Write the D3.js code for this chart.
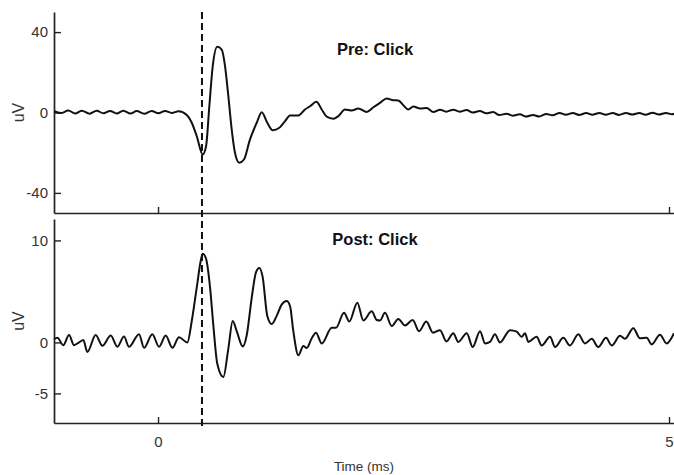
<!DOCTYPE html>
<html>
<head>
<meta charset="utf-8">
<script src="https://cdn.jsdelivr.net/npm/d3@7"></script>
<style>
  html, body { margin: 0; padding: 0; background: #fff; }
  svg { display: block; font-family: "Liberation Sans", Arial, sans-serif; }
</style>
</head>
<body>
<svg id="chart" width="674" height="475"></svg>
<script>
// Averaged evoked responses to a click, before (Pre) and after (Post).
// Each series: [time in ms, amplitude in uV].
const preClick = [
  [-1.018, 0.6], [-0.95, -0.3], [-0.878, 1.0], [-0.81, -0.5], [-0.747, 0.9], [-0.67, -0.6],
  [-0.600, 0.9], [-0.535, -0.4], [-0.470, 0.8], [-0.405, -0.5], [-0.340, 0.9], [-0.27, -0.5],
  [-0.209, 0.7], [-0.135, -0.6], [-0.062, 0.8], [0.003, -0.4], [0.068, 0.8], [0.135, -0.2],
  [0.20, 0.6], [0.281, -1.2], [0.330, -5.1], [0.379, -11.8], [0.437, -20.9], [0.470, -16.8],
  [0.502, 3.1], [0.535, 23], [0.580, 32.7], [0.623, 31.3], [0.656, 23], [0.688, 8.1],
  [0.721, -8.5], [0.753, -20], [0.795, -25], [0.841, -23.4], [0.900, -13.4], [0.966, -5.1],
  [1.015, 0.15], [1.069, -5.1], [1.122, -8.8], [1.187, -7.6], [1.243, -4.3], [1.292, -1.5],
  [1.373, -1.5], [1.438, 1.5], [1.487, 3.1], [1.549, 5.3], [1.602, 1.5], [1.651, -2.1],
  [1.715, -3.1], [1.764, -1.8], [1.830, 1.5], [1.895, 1.0], [1.960, 2.0], [2.042, 0.3],
  [2.107, 2.6], [2.172, 4.8], [2.238, 7.0], [2.302, 6.1], [2.351, 6.0], [2.400, 3.6],
  [2.449, 1.5], [2.498, 3.0], [2.564, 2.0], [2.629, 2.3], [2.694, 0.2], [2.76, 1.4],
  [2.82, 0.4], [2.89, 1.4], [2.95, 0.4], [3.02, 1.2], [3.08, 0.0], [3.15, 0.8],
  [3.21, -0.4], [3.28, 0.2], [3.34, -1.3], [3.41, -0.6], [3.47, -1.6], [3.54, -0.9],
  [3.60, -2.0], [3.67, -1.2], [3.73, -2.0], [3.80, -0.7], [3.86, -1.4], [3.93, -0.2],
  [3.99, -1.1], [4.06, -0.3], [4.12, -1.2], [4.19, -0.3], [4.25, -1.1], [4.32, -0.2],
  [4.38, -1.1], [4.45, -0.3], [4.51, -1.2], [4.58, -0.2], [4.64, -1.0], [4.71, -0.2],
  [4.77, -1.1], [4.84, -0.1], [4.90, -1.0], [4.97, -0.2], [5.03, -0.9], [5.06, -0.5]
];

const postClick = [
  [-1.018, 0.33], [-0.985, 0.47], [-0.927, -0.27], [-0.871, 0.73], [-0.822, -0.27], [-0.773, 0.0],
  [-0.731, 0.23], [-0.692, -0.93], [-0.610, 0.73], [-0.545, -0.33], [-0.463, 0.67], [-0.398, -0.43],
  [-0.333, 0.57], [-0.284, -0.43], [-0.186, 0.8], [-0.137, -0.53], [-0.056, 0.8], [0.010, -0.43],
  [0.075, 0.67], [0.140, -0.53], [0.205, 0.5], [0.287, 0.0], [0.330, 2.1], [0.379, 5.4],
  [0.418, 8.0], [0.437, 8.7], [0.470, 8.2], [0.509, 5.4], [0.541, 1.7], [0.580, -2.1],
  [0.639, -3.4], [0.688, -0.6], [0.731, 2.1], [0.770, 1.1], [0.829, -0.4], [0.868, 0.7],
  [0.917, 4.4], [0.959, 6.9], [0.991, 7.3], [1.024, 6.4], [1.069, 2.6], [1.113, 1.8],
  [1.161, 2.6], [1.210, 3.7], [1.259, 4.05], [1.292, 3.55], [1.324, 1.1], [1.373, -1.25],
  [1.422, -0.35], [1.455, -0.55], [1.504, 0.4], [1.546, 0.95], [1.602, -0.1], [1.700, 1.45],
  [1.742, 1.45], [1.820, 2.9], [1.872, 2.05], [1.950, 3.9], [2.009, 2.15], [2.091, 3.05],
  [2.140, 2.2], [2.172, 2.15], [2.221, 2.9], [2.287, 1.6], [2.351, 2.3], [2.417, 1.65],
  [2.492, 2.2], [2.554, 1.1], [2.625, 2.05], [2.691, 0.95], [2.759, 1.2], [2.823, 0.1],
  [2.889, 0.9], [2.938, 0.05], [3.021, 0.9], [3.079, -0.45], [3.151, 1.1], [3.200, -0.1],
  [3.249, 0.05], [3.297, 0.8], [3.346, 0.0], [3.444, 1.2], [3.510, 1.05], [3.559, 0.55],
  [3.591, 0.9], [3.623, 0.05], [3.705, 0.55], [3.754, -0.3], [3.836, 0.55], [3.885, -0.45],
  [3.966, 0.45], [4.031, -0.3], [4.113, 0.8], [4.178, -0.1], [4.244, 0.35], [4.308, -0.45],
  [4.384, 0.45], [4.439, -0.3], [4.521, 0.65], [4.569, 0.35], [4.651, 1.4], [4.716, 0.4],
  [4.782, 0.45], [4.831, -0.2], [4.912, 0.75], [4.977, -0.1], [5.049, 0.9]
];

const timeTicks = [0, 5];
const preTicks = [40, 0, -40];
const postTicks = [10, 0, -5];
const markerTime = 0.43;   // wave marker, ms
const titles = ["Pre: Click", "Post: Click"];
const xTitle = "Time (ms)";
const yTitle = "uV";

const svg = d3.select("#chart");

const x = d3.scaleLinear().domain([-1.018, 5.049]).range([54, 674]);

const panels = [
  { data: preClick,  ticks: preTicks,  y: d3.scaleLinear().domain([-50, 50]).range([213, 12]),
    title: titles[0], titleY: 55, labelX: false },
  { data: postClick, ticks: postTicks, y: d3.scaleLinear().domain([-7.9, 12.1]).range([423, 219]),
    title: titles[1], titleY: 245, labelX: true }
];

const axisColor = "#222";
const labelColor = "#333";
const fontFamily = "Liberation Sans, Arial, sans-serif";
const plainNumber = d => String(d);   // keeps a plain hyphen for negatives

panels.forEach(p => {
  const [yBottom, yTop] = p.y.range();

  // y axis, ticks pointing into the plot
  const gy = svg.append("g")
    .attr("transform", `translate(${x.range()[0]},0)`)
    .call(d3.axisLeft(p.y).tickValues(p.ticks).tickFormat(plainNumber)
      .tickSizeInner(-7).tickSizeOuter(0).tickPadding(6));
  gy.select(".domain").attr("stroke", axisColor).attr("stroke-width", 1.7);
  gy.selectAll(".tick line").attr("stroke", axisColor).attr("stroke-width", 1.4);
  gy.selectAll(".tick text").attr("font-size", 15).attr("fill", labelColor)
    .attr("font-family", fontFamily);

  // x axis along the bottom of each panel
  const gx = svg.append("g")
    .attr("transform", `translate(0,${yBottom})`)
    .call(d3.axisBottom(x).tickValues(timeTicks).tickSizeInner(-6).tickSizeOuter(0)
      .tickPadding(13).tickFormat(p.labelX ? plainNumber : () => ""));
  gx.select(".domain").attr("stroke", axisColor).attr("stroke-width", 1.7);
  gx.selectAll(".tick line").attr("stroke", axisColor).attr("stroke-width", 1.4);
  gx.selectAll(".tick text").attr("font-size", 15).attr("fill", labelColor)
    .attr("font-family", fontFamily);

  // waveform
  const line = d3.line()
    .x(d => x(d[0]))
    .y(d => p.y(d[1]))
    .curve(d3.curveMonotoneX);
  svg.append("path")
    .datum(p.data)
    .attr("d", line)
    .attr("fill", "none")
    .attr("stroke", "#111")
    .attr("stroke-width", 2)
    .attr("stroke-linejoin", "round");

  // panel title
  svg.append("text")
    .attr("x", 375).attr("y", p.titleY)
    .attr("text-anchor", "middle")
    .attr("font-size", 16.5).attr("font-weight", "bold").attr("fill", "#111")
    .text(p.title);

  // y label
  svg.append("text")
    .attr("transform", `translate(24,${(yTop + yBottom) / 2}) rotate(-90)`)
    .attr("text-anchor", "middle")
    .attr("font-size", 16).attr("fill", labelColor)
    .text(yTitle);
});

// dashed marker spanning both panels
svg.append("line")
  .attr("x1", x(markerTime)).attr("x2", x(markerTime))
  .attr("y1", 12).attr("y2", 430)
  .attr("stroke", "#111").attr("stroke-width", 2)
  .attr("stroke-dasharray", "7,4");

// x label
svg.append("text")
  .attr("x", 364).attr("y", 471)
  .attr("text-anchor", "middle")
  .attr("font-size", 13.5).attr("fill", labelColor)
  .text(xTitle);
</script>
</body>
</html>
